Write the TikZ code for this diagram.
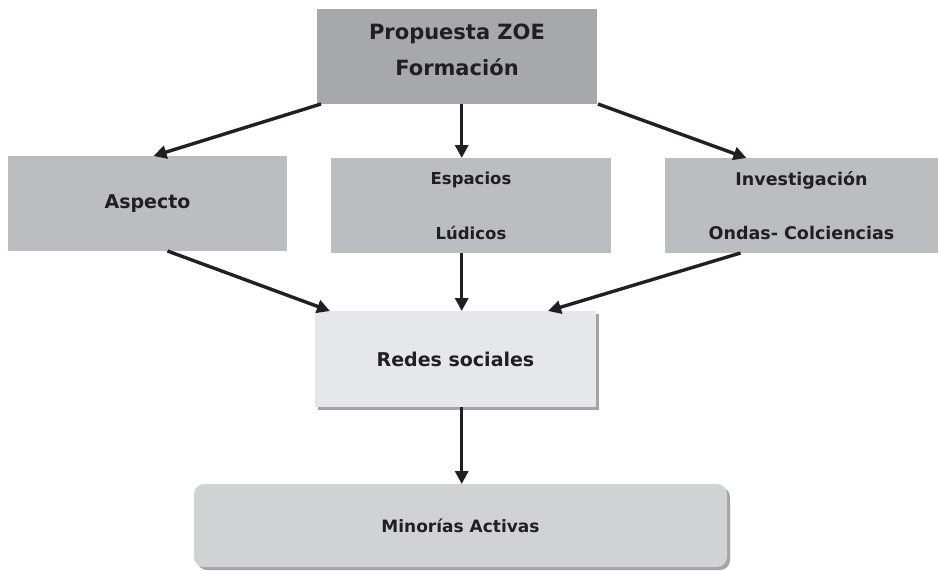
\documentclass[tikz,border=0pt]{standalone}
\usepackage{fontspec}
\setmainfont{DejaVu Sans}
\usetikzlibrary{arrows.meta,shadows}
\definecolor{gristop}{HTML}{A7A8AB}
\definecolor{grismedio}{HTML}{BCBDC0}
\definecolor{grisclaro}{HTML}{E6E7E8}
\definecolor{grisbase}{HTML}{D1D2D4}
\definecolor{sombragris}{HTML}{A2A4A7}
\definecolor{linea}{HTML}{231F20}
\begin{document}
\begin{tikzpicture}[x=1pt,y=-1pt,
    caja/.style={fill=#1,inner sep=0pt,outer sep=0pt,align=center,text=linea},
    flecha/.style={-{Triangle[length=13pt,width=13pt]},line width=3.4pt,color=linea},
    sombra/.style={drop shadow={shadow xshift=3pt,shadow yshift=-3pt,fill=sombragris,opacity=1}}]
    \useasboundingbox (0,0) rectangle (939,570);
    % cajas
    \node[caja=gristop,minimum width=280pt,minimum height=95pt,text depth=14pt,font=\bfseries\fontsize{21}{25}\selectfont] (prop) at (457,56.5) {Propuesta ZOE\\[11pt]Formación};
    \node[caja=grismedio,minimum width=279pt,minimum height=95pt,font=\bfseries\fontsize{19}{23}\selectfont] (asp) at (147.5,203.5) {Aspecto};
    \node[caja=grismedio,minimum width=280pt,minimum height=95pt,font=\bfseries\fontsize{16.5}{20}\selectfont] (esp) at (471,205.5) {Espacios\\[35pt]Lúdicos};
    \node[caja=grismedio,minimum width=273pt,minimum height=95pt,font=\bfseries\fontsize{17.5}{21}\selectfont] (inv) at (801.5,205.5) {Investigación\\[33pt]Ondas- Colciencias};
    \node[caja=grisclaro,sombra,minimum width=281pt,minimum height=96pt,font=\bfseries\fontsize{19}{23}\selectfont] (redes) at (455.5,359) {Redes sociales};
    \node[caja=grisbase,sombra,rounded corners=10pt,minimum width=533pt,minimum height=83pt,font=\bfseries\fontsize{17}{20}\selectfont] (minor) at (460.5,525.5) {Minorías Activas};
    % flechas
    \draw[flecha] ([xshift=4pt]prop.south west) -- ([xshift=6pt]asp.north);
    \draw[flecha] ([xshift=4.7pt]prop.south) -- ([xshift=-9.3pt]esp.north);
    \draw[flecha] ([xshift=1pt]prop.south east) -- ([xshift=-55pt]inv.north);
    \draw[flecha] ([xshift=20pt]asp.south) -- ([xshift=15pt]redes.north west);
    \draw[flecha] ([xshift=-9.3pt]esp.south) -- ([xshift=6.2pt]redes.north);
    \draw[flecha] ([xshift=-61pt]inv.south) -- ([xshift=-48pt]redes.north east);
    \draw[flecha] ([xshift=6.2pt]redes.south) -- ([xshift=1.2pt]minor.north);
\end{tikzpicture}
\end{document}
